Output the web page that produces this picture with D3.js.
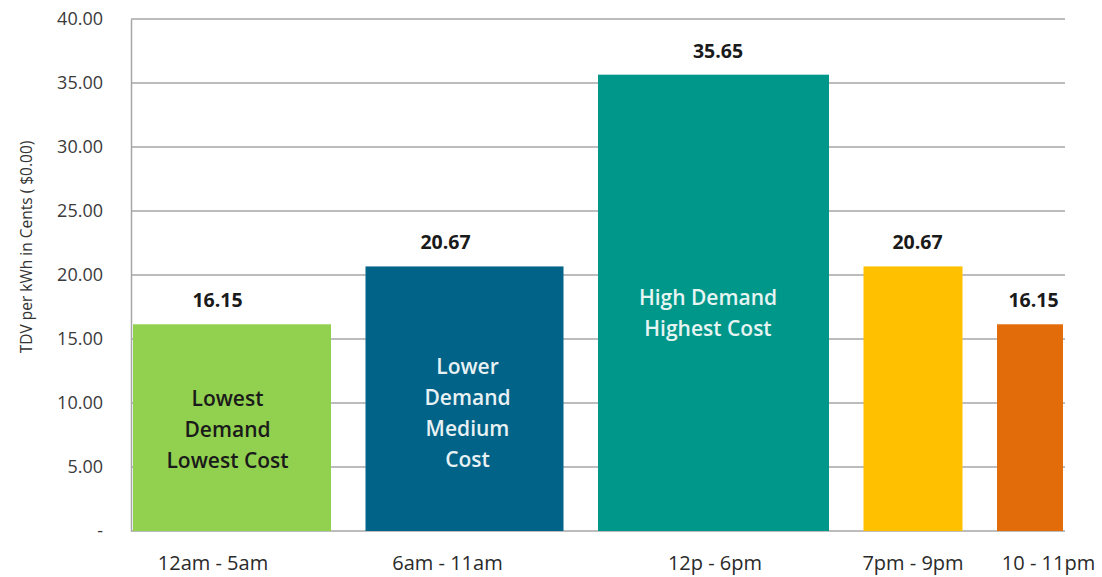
<!DOCTYPE html>
<html>
<head>
<meta charset="utf-8">
<script src="https://cdn.jsdelivr.net/npm/d3@7"></script>
<style>
  body { margin: 0; background: #fff; }
  svg { display: block; }
</style>
</head>
<body>
<div id="chart"></div>
<script>
// Chart data.
const periods = ['12am - 5am', '6am - 11am', '12p - 6pm', '7pm - 9pm', '10 - 11pm'];
const hours = [6, 6, 7, 3, 2];
const costs = [16.15, 20.67, 35.65, 20.67, 16.15];
const barNotes = [
  ['Lowest', 'Demand', 'Lowest Cost'],
  ['Lower', 'Demand', 'Medium', 'Cost'],
  ['High Demand', 'Highest Cost'],
  [],
  []
];
const yTicks = [0, 5, 10, 15, 20, 25, 30, 35, 40];

// Styling.
const barColors = ['#92d050', '#006387', '#00978b', '#ffc000', '#e36c0a'];
const noteColors = ['#1a1a1a', '#e8f1f4', '#e6f4f2', '#000', '#000'];
// The original labels are nudged by hand, so keep those nudges.
const catNudge = [-19, -17, 1.5, 0, 18.5];
const valNudge = [-14.5, -19, 4.5, 4.5, 3.5];
const noteNudge = [-4.5, 3, -5.5, 0, 0];
const noteBaseline = [406, 374, 305, 0, 0];

const width = 1102, height = 577;
const margin = { top: 19, right: 37, bottom: 46, left: 131 };
const innerW = width - margin.left - margin.right;
const innerH = height - margin.top - margin.bottom;
const gap = 34.5;
const pad = 2;

const svg = d3.select('#chart').append('svg')
  .attr('width', width)
  .attr('height', height);

const g = svg.append('g')
  .attr('transform', `translate(${margin.left},${margin.top})`);

// Scales.
const y = d3.scaleLinear().domain([0, 40]).range([innerH, 0]);
const x = d3.scaleLinear()
  .domain([0, d3.sum(hours)])
  .range([0, innerW - gap * (hours.length - 1) - 2 * pad]);

const starts = d3.cumsum([0].concat(hours.slice(0, -1)));
const barX = (d, i) => pad + x(starts[i]) + i * gap;
const barW = (d, i) => x(hours[i]);
const barMid = (d, i) => barX(d, i) + barW(d, i) / 2;

// Gridlines.
g.append('g')
  .selectAll('line')
  .data(yTicks.filter(t => t > 0))
  .join('line')
  .attr('x1', 0)
  .attr('x2', innerW)
  .attr('y1', d => y(d))
  .attr('y2', d => y(d))
  .attr('stroke', '#a6a6a6')
  .attr('stroke-width', 1.5);

// Y axis.
const yAxis = g.append('g')
  .call(d3.axisLeft(y)
    .tickValues(yTicks)
    .tickSize(0)
    .tickPadding(28)
    .tickFormat(d => d === 0 ? '-' : d.toFixed(2)));
yAxis.select('.domain').attr('stroke', '#a6a6a6').attr('stroke-width', 1.5);
yAxis.selectAll('text')
  .attr('font-family', 'Open Sans, sans-serif')
  .attr('font-size', 18)
  .attr('fill', '#3a3a3a');

// Bottom axis line.
g.append('line')
  .attr('x1', 0)
  .attr('x2', innerW)
  .attr('y1', innerH)
  .attr('y2', innerH)
  .attr('stroke', '#a6a6a6')
  .attr('stroke-width', 1.5);

// Bars.
g.append('g')
  .selectAll('rect')
  .data(costs)
  .join('rect')
  .attr('x', barX)
  .attr('y', d => y(d))
  .attr('width', barW)
  .attr('height', d => innerH - y(d))
  .attr('fill', (d, i) => barColors[i]);

// Value labels.
g.append('g')
  .selectAll('text')
  .data(costs)
  .join('text')
  .attr('x', (d, i) => barMid(d, i) + valNudge[i])
  .attr('y', d => y(d) - 17)
  .attr('text-anchor', 'middle')
  .attr('font-family', 'Open Sans, sans-serif')
  .attr('font-weight', 'bold')
  .attr('font-size', 19.5)
  .attr('fill', '#1a1a1a')
  .text(d => d.toFixed(2));

// Notes inside the bars.
costs.forEach((d, i) => {
  if (!barNotes[i].length) return;
  g.append('text')
    .attr('text-anchor', 'middle')
    .attr('font-family', 'Open Sans, sans-serif')
    .attr('font-weight', 600)
    .attr('font-size', 21)
    .attr('fill', noteColors[i])
    .selectAll('tspan')
    .data(barNotes[i])
    .join('tspan')
    .attr('x', barMid(d, i) + noteNudge[i])
    .attr('y', (t, j) => noteBaseline[i] - margin.top + j * 31)
    .text(t => t);
});

// Category labels.
g.append('g')
  .selectAll('text')
  .data(periods)
  .join('text')
  .attr('x', (d, i) => barMid(d, i) + catNudge[i])
  .attr('y', innerH + 39)
  .attr('text-anchor', 'middle')
  .attr('font-family', 'Open Sans, sans-serif')
  .attr('font-size', 20)
  .attr('fill', '#2a2a2a')
  .text(d => d);

// Y axis title.
svg.append('text')
  .attr('transform', `translate(32,${margin.top + innerH / 2 - 28}) rotate(-90)`)
  .attr('text-anchor', 'middle')
  .attr('font-family', 'Open Sans, sans-serif')
  .attr('font-size', 15.5)
  .attr('fill', '#333')
  .text('TDV per kWh in Cents ( $0.00)');
</script>
</body>
</html>
